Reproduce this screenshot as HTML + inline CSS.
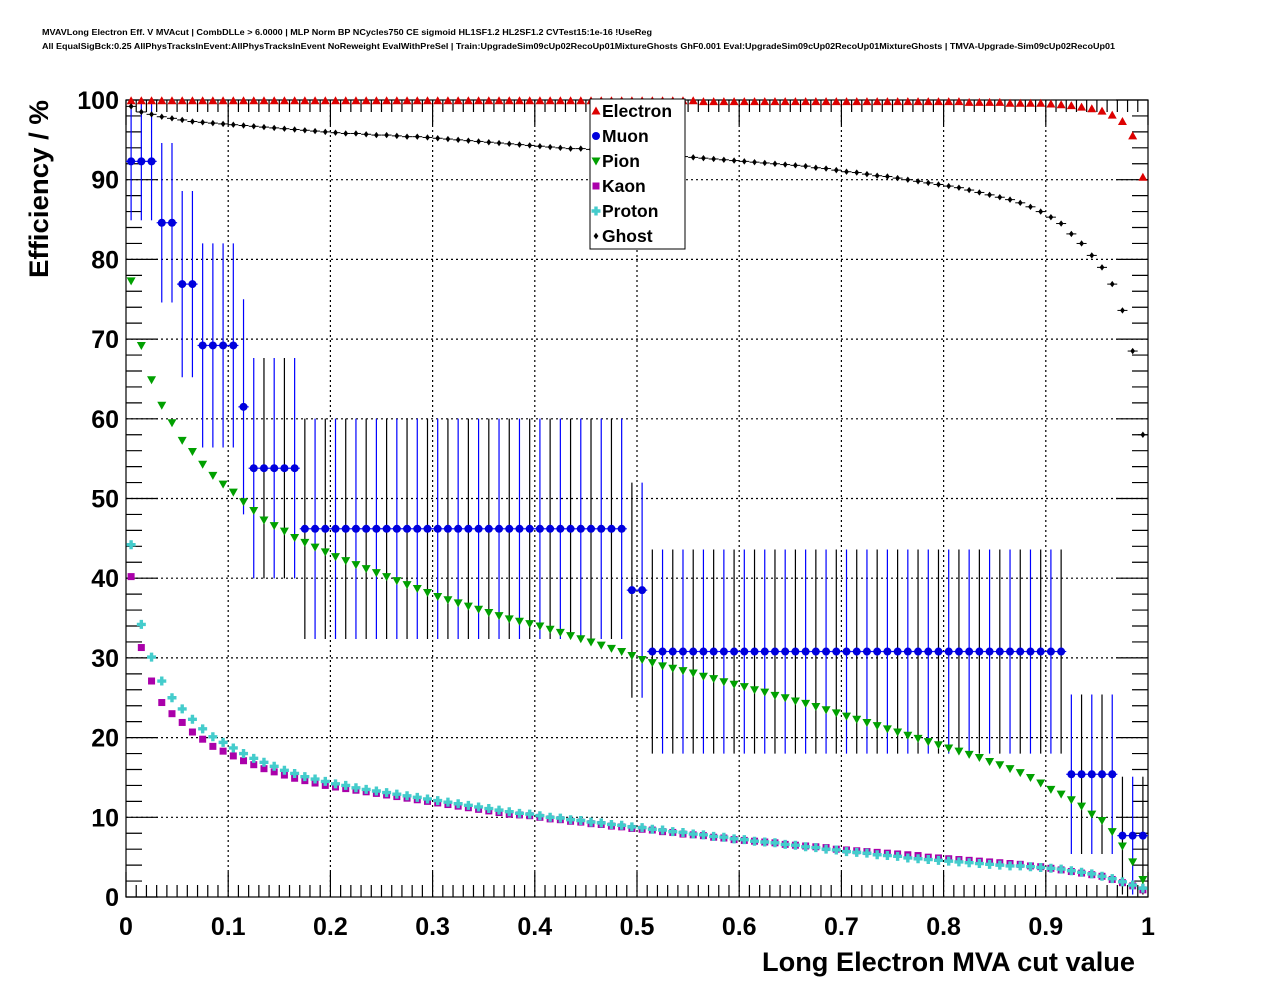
<!DOCTYPE html>
<html><head><meta charset="utf-8"><style>
html,body{margin:0;padding:0;background:#fff;}
svg{display:block;font-family:"Liberation Sans",sans-serif;font-weight:bold;}
</style></head><body>
<svg id="chart" width="1276" height="996" viewBox="0 0 1276 996" xmlns="http://www.w3.org/2000/svg">
<text x="42" y="35" font-size="8" textLength="610" lengthAdjust="spacingAndGlyphs">MVAVLong Electron Eff. V MVAcut | CombDLLe &gt; 6.0000 | MLP Norm BP NCycles750 CE sigmoid HL1SF1.2 HL2SF1.2 CVTest15:1e-16 !UseReg</text>
<text x="42" y="49" font-size="8" textLength="1073" lengthAdjust="spacingAndGlyphs">All EqualSigBck:0.25 AllPhysTracksInEvent:AllPhysTracksInEvent NoReweight EvalWithPreSel | Train:UpgradeSim09cUp02RecoUp01MixtureGhosts GhF0.001 Eval:UpgradeSim09cUp02RecoUp01MixtureGhosts | TMVA-Upgrade-Sim09cUp02RecoUp01</text>
<g id="grid"></g>
<g id="axes"></g>
<g id="marks"></g>
<text x="1135" y="971" font-size="27" text-anchor="end" textLength="373" lengthAdjust="spacingAndGlyphs">Long Electron MVA cut value</text>
<text transform="translate(48,100) rotate(-90)" font-size="27" text-anchor="end" textLength="178" lengthAdjust="spacingAndGlyphs">Efficiency / %</text>
<g id="legend"></g>
</svg>
<script>
const xTicks=["0","0.1","0.2","0.3","0.4","0.5","0.6","0.7","0.8","0.9","1"];
const yTicks=["0","10","20","30","40","50","60","70","80","90","100"];
const electron=[99.9,99.9,99.9,99.9,99.9,99.9,99.9,99.9,99.9,99.9,99.9,99.9,99.9,99.9,99.9,99.9,99.9,99.9,99.9,99.9,99.9,99.9,99.9,99.9,99.9,99.9,99.9,99.9,99.9,99.9,99.9,99.9,99.9,99.9,99.9,99.9,99.9,99.9,99.9,99.9,99.9,99.9,99.9,99.9,99.9,99.9,99.9,99.9,99.9,99.9,99.9,99.9,99.9,99.9,99.9,99.9,99.8,99.8,99.8,99.8,99.8,99.8,99.8,99.8,99.8,99.8,99.8,99.8,99.8,99.8,99.8,99.8,99.8,99.8,99.8,99.8,99.8,99.8,99.8,99.8,99.8,99.8,99.7,99.7,99.7,99.7,99.6,99.6,99.6,99.6,99.5,99.4,99.3,99.1,98.9,98.6,98.1,97.3,95.5,90.3];
const muon=[92.3,92.3,92.3,84.6,84.6,76.9,76.9,69.2,69.2,69.2,69.2,61.5,53.8,53.8,53.8,53.8,53.8,46.2,46.2,46.2,46.2,46.2,46.2,46.2,46.2,46.2,46.2,46.2,46.2,46.2,46.2,46.2,46.2,46.2,46.2,46.2,46.2,46.2,46.2,46.2,46.2,46.2,46.2,46.2,46.2,46.2,46.2,46.2,46.2,38.5,38.5,30.8,30.8,30.8,30.8,30.8,30.8,30.8,30.8,30.8,30.8,30.8,30.8,30.8,30.8,30.8,30.8,30.8,30.8,30.8,30.8,30.8,30.8,30.8,30.8,30.8,30.8,30.8,30.8,30.8,30.8,30.8,30.8,30.8,30.8,30.8,30.8,30.8,30.8,30.8,30.8,30.8,15.4,15.4,15.4,15.4,15.4,7.7,7.7,7.7];
const muonN=13;
const pion=[77.3,69.2,64.9,61.7,59.5,57.3,55.9,54.3,52.9,51.8,50.8,49.6,48.5,47.3,46.6,45.9,45.1,44.5,43.9,43.3,42.7,42.2,41.7,41.2,40.7,40.2,39.7,39.2,38.7,38.2,37.7,37.3,36.9,36.5,36.1,35.7,35.3,34.9,34.6,34.3,34.0,33.6,33.2,32.8,32.4,32.0,31.6,31.2,30.8,30.3,29.8,29.4,29.0,28.7,28.4,28.1,27.7,27.4,27.0,26.7,26.4,26.0,25.7,25.3,25.0,24.6,24.3,23.9,23.5,23.1,22.7,22.3,21.9,21.5,21.1,20.7,20.3,19.9,19.5,19.1,18.7,18.3,17.9,17.5,17.0,16.6,16.1,15.6,15.0,14.3,13.5,12.9,12.2,11.4,10.4,9.6,8.2,6.4,4.4,2.2];
const kaon=[40.2,31.3,27.1,24.4,23.0,21.9,20.7,19.8,18.9,18.3,17.7,17.1,16.6,16.1,15.7,15.3,14.9,14.6,14.3,14.0,13.8,13.6,13.4,13.2,13.0,12.8,12.6,12.4,12.2,12.0,11.8,11.6,11.4,11.2,11.0,10.8,10.6,10.4,10.3,10.2,10.0,9.8,9.7,9.5,9.4,9.2,9.1,8.9,8.8,8.6,8.5,8.4,8.2,8.1,7.9,7.8,7.7,7.5,7.4,7.2,7.1,7.0,6.9,6.8,6.6,6.5,6.4,6.3,6.2,6.0,5.9,5.8,5.7,5.6,5.5,5.4,5.3,5.2,5.0,4.9,4.8,4.7,4.6,4.5,4.4,4.3,4.2,4.1,3.9,3.8,3.6,3.4,3.2,3.0,2.8,2.6,2.2,1.8,1.4,0.9];
const proton=[44.2,34.2,30.1,27.1,25.0,23.6,22.3,21.1,20.1,19.4,18.7,18.0,17.4,16.9,16.4,15.9,15.5,15.1,14.8,14.5,14.2,14.0,13.7,13.5,13.3,13.1,12.9,12.7,12.5,12.3,12.1,11.9,11.7,11.5,11.3,11.1,10.9,10.7,10.5,10.4,10.2,10.0,9.9,9.7,9.6,9.4,9.3,9.1,9.0,8.8,8.7,8.5,8.4,8.2,8.1,7.9,7.8,7.6,7.5,7.3,7.2,7.0,6.9,6.8,6.6,6.5,6.3,6.2,6.0,5.9,5.7,5.6,5.5,5.3,5.2,5.1,4.9,4.8,4.7,4.6,4.5,4.4,4.3,4.2,4.1,4.0,3.9,3.9,3.8,3.7,3.6,3.5,3.3,3.1,2.9,2.6,2.3,1.9,1.5,1.1];
const ghost=[99.2,98.5,98.2,97.9,97.7,97.5,97.3,97.2,97.1,97.0,96.9,96.8,96.7,96.6,96.5,96.4,96.3,96.2,96.1,96.0,95.9,95.8,95.8,95.7,95.6,95.6,95.5,95.4,95.4,95.3,95.2,95.1,95.0,94.9,94.8,94.7,94.6,94.5,94.4,94.3,94.2,94.1,94.0,93.9,93.9,93.8,93.7,93.6,93.5,93.4,93.3,93.2,93.1,93.0,92.9,92.8,92.7,92.6,92.5,92.4,92.3,92.2,92.1,92.0,91.9,91.8,91.7,91.5,91.4,91.2,91.0,90.9,90.7,90.5,90.4,90.2,90.0,89.8,89.6,89.4,89.2,89.0,88.7,88.4,88.1,87.8,87.5,87.1,86.6,86.0,85.3,84.5,83.2,82.0,80.5,79.0,76.9,73.6,68.5,58.0];

const X0=126,X1=1148,Y0=897,Y1=100;
const NS="http://www.w3.org/2000/svg";
function sx(v){return X0+(X1-X0)*v;}
function sy(v){return Y0-(Y0-Y1)*v/100;}
function mk(tag,attrs,parent){const e=document.createElementNS(NS,tag);for(const k in attrs)e.setAttribute(k,attrs[k]);parent.appendChild(e);return e;}
const grid=document.getElementById('grid'),axes=document.getElementById('axes'),marks=document.getElementById('marks'),legend=document.getElementById('legend');

xTicks.forEach((t,i)=>{const v=+t;const x=sx(v);
  if(i>0&&i<xTicks.length-1){const l=mk('line',{x1:x,x2:x,y1:Y0,y2:Y1,stroke:'#000','stroke-width':1.2,'stroke-dasharray':'2,3'},grid);}
  const tx=mk('text',{x:x,y:935,'font-size':25,'text-anchor':'middle'},axes);tx.textContent=t;
  
});
yTicks.forEach((t,i)=>{const v=+t;const y=sy(v);
  if(i>0&&i<yTicks.length-1){const l=mk('line',{x1:X0,x2:X1,y1:y,y2:y,stroke:'#000','stroke-width':1.2,'stroke-dasharray':'2,3'},grid);}
  const tx=mk('text',{x:119,y:y+9,'font-size':25,'text-anchor':'end'},axes);tx.textContent=t;
  
});
let d='';
for(let i=0;i<=100;i++){const x=sx(i/100);const L=(i%10==0)?25:12;d+=`M${x},${Y0}v${-L}M${x},${Y1}v${L}`;}
for(let i=0;i<=50;i++){const y=sy(i*2);const L=(i%5==0)?32:16;d+=`M${X0},${y}h${L}M${X1},${y}h${-L}`;}
const tk=mk('path',{d:d,stroke:'#000','stroke-width':1.2,fill:'none'},axes);

const fr=mk('rect',{x:X0,y:Y1,width:X1-X0,height:Y0-Y1,fill:'none',stroke:'#000','stroke-width':1.2},axes);


function marker(kind,x,y,col,parent){
  let e;
  if(kind==='tu')e=mk('path',{d:`M${x-4.5},${y+3.5}L${x+4.5},${y+3.5}L${x},${y-4.5}Z`,fill:col},parent);
  else if(kind==='td')e=mk('path',{d:`M${x-4.5},${y-3.5}L${x+4.5},${y-3.5}L${x},${y+4.5}Z`,fill:col},parent);
  else if(kind==='c')e=mk('circle',{cx:x,cy:y,r:4,fill:col},parent);
  else if(kind==='s')e=mk('rect',{x:x-3.5,y:y-3.5,width:7,height:7,fill:col},parent);
  else if(kind==='p')e=mk('path',{d:`M${x-1.7},${y-4.5}h3.4v2.8h2.8v3.4h-2.8v2.8h-3.4v-2.8h-2.8v-3.4h2.8Z`,fill:col},parent);
  else e=mk('path',{d:`M${x},${y-3.2}L${x+2.4},${y}L${x},${y+3.2}L${x-2.4},${y}Z`,fill:col},parent);
  return e;
}
muon.forEach((v,i)=>{const p=v/100;const err=100*Math.sqrt(p*(1-p)/muonN);const x=sx((i+0.5)/100);
  const col=(i>=12&&i%2==1)?'#000':'#0000ff';
  const l=mk('line',{x1:x,x2:x,y1:sy(Math.min(100,v+err)),y2:sy(Math.max(0,v-err)),stroke:col,'stroke-width':1.2},marks);
  
  const h=mk('line',{x1:sx(i/100),x2:sx((i+1)/100),y1:sy(v),y2:sy(v),stroke:'#0000ff','stroke-width':1.2},marks);
  
});
const series=[["Electron",electron,'tu','#dd0000'],["Muon",muon,'c','#0000dd'],["Pion",pion,'td','#00a000'],["Kaon",kaon,'s','#aa00aa'],["Proton",proton,'p','#44cccc'],["Ghost",ghost,'d','#000']];
series.forEach(([name,arr,kind,col])=>{
  const g=mk('g',{},marks);
  
  arr.forEach((v,i)=>{const x=sx((i+0.5)/100),y=sy(v);
    if(name==='Ghost'){const h=mk('line',{x1:x-5,x2:x+5,y1:y,y2:y,stroke:'#000','stroke-width':1},g);}
    const m=marker(kind,x,y,col,g);
    
  });
});
const lb=mk('rect',{x:590,y:99,width:95,height:150,fill:'#fff',stroke:'#000','stroke-width':1},legend);

series.forEach(([name,arr,kind,col],i)=>{const y=111+i*25;
  const m=marker(kind,596,y,col,legend);
  
  const t=mk('text',{x:602,y:y+6,'font-size':17.5},legend);t.textContent=name;
  
});
</script>
</body></html>
